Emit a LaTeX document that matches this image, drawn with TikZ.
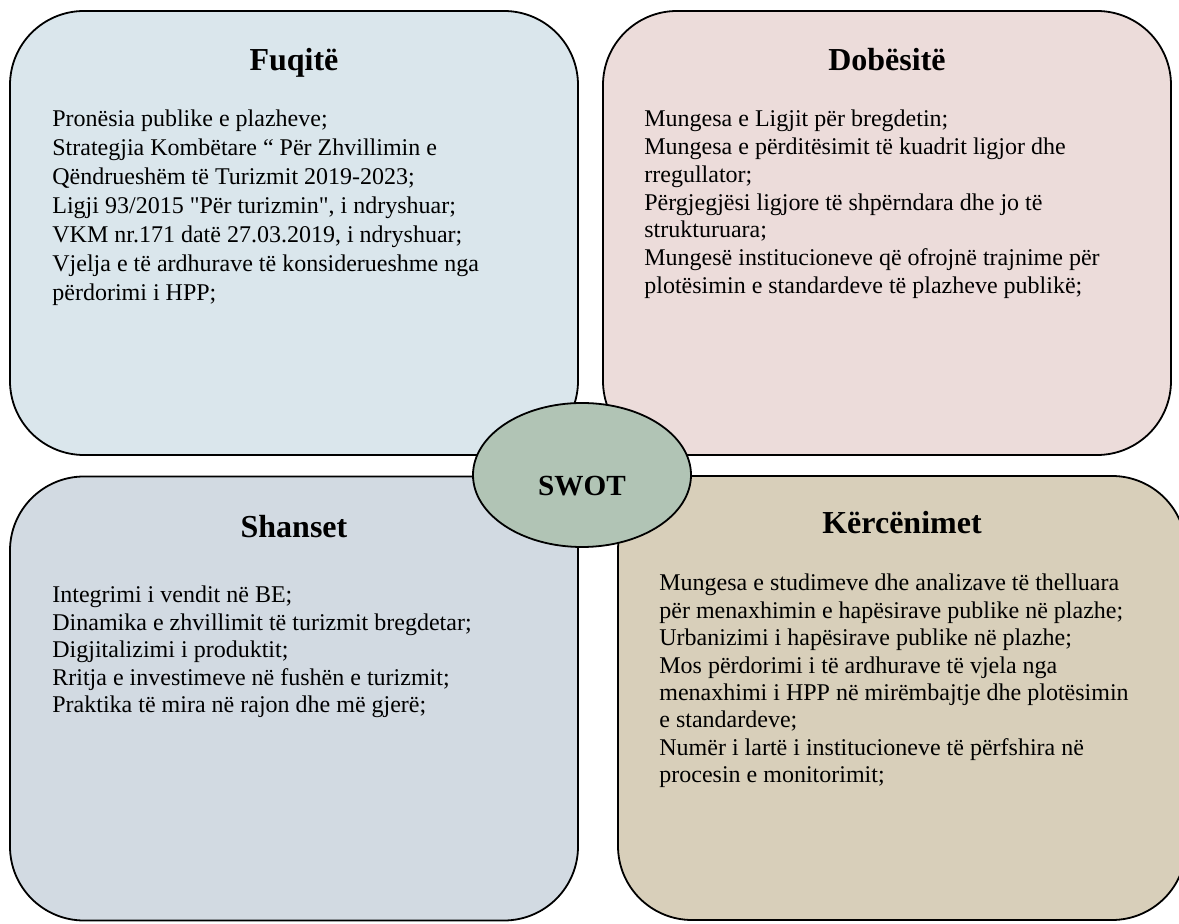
\documentclass[tikz,border=0pt]{standalone}
\usepackage{fontspec}
\setmainfont{Liberation Serif}
\usetikzlibrary{shapes.geometric}
\definecolor{tlfill}{RGB}{218,230,236}
\definecolor{trfill}{RGB}{236,220,218}
\definecolor{blfill}{RGB}{210,218,226}
\definecolor{brfill}{RGB}{216,207,186}
\definecolor{ellfill}{RGB}{177,196,181}
\tikzset{
  quadbox/.style={draw=black, line width=0.9pt, rounded corners=37pt, minimum width=284pt, minimum height=222pt, inner sep=0pt},
  quadtitle/.style={anchor=base, inner sep=0pt, font=\fontsize{16}{19}\selectfont\bfseries},
  bodytext/.style={anchor=base west, inner sep=0pt, align=left},
  swotell/.style={ellipse, draw=black, line width=0.9pt, fill=ellfill, minimum width=109pt, minimum height=72pt, inner sep=0pt}
}
\begin{document}
\begin{tikzpicture}[x=0.5pt, y=-0.5pt]
\useasboundingbox (0,0) rectangle (1179,924);
\fill[white] (0,0) rectangle (1179,924);
% boxes
\node[quadbox, fill=tlfill] (tl) at (294,233) {};
\node[quadbox, fill=trfill] (tr) at (887,233) {};
\node[quadbox, fill=blfill] (bl) at (294,698.5) {};
\node[quadbox, fill=brfill] (br) at (902,698) {};
% titles
\node[quadtitle] (tlt) at (294,71) {Fuqitë};
\node[quadtitle] (trt) at (887,71) {Dobësitë};
\node[quadtitle] (blt) at (294,538) {Shanset};
\node[quadtitle] (brt) at (902,534) {Kërcënimet};
% bodies (base anchor = baseline of the last line)
\node[bodytext, font=\fontsize{12}{14.5}\selectfont] (tlb) at (52,301) {Pronësia publike e plazheve;\\
Strategjia Kombëtare “ Për Zhvillimin e\\
Qëndrueshëm të Turizmit 2019-2023;\\
Ligji 93/2015 \textquotedbl Për turizmin\textquotedbl, i ndryshuar;\\
VKM nr.171 datë 27.03.2019, i ndryshuar;\\
Vjelja e të ardhurave të konsiderueshme nga\\
përdorimi i HPP;};
\node[bodytext, font=\fontsize{12}{13.85}\selectfont] (trb) at (644,293.2) {Mungesa e Ligjit për bregdetin;\\
Mungesa e përditësimit të kuadrit ligjor dhe\\
rregullator;\\
Përgjegjësi ligjore të shpërndara dhe jo të\\
strukturuara;\\
Mungesë institucioneve që ofrojnë trajnime për\\
plotësimin e standardeve të plazheve publikë;};
\node[bodytext, font=\fontsize{12}{13.75}\selectfont] (blb) at (52,713) {Integrimi i vendit në BE;\\
Dinamika e zhvillimit të turizmit bregdetar;\\
Digjitalizimi i produktit;\\
Rritja e investimeve në fushën e turizmit;\\
Praktika të mira në rajon dhe më gjerë;};
\node[bodytext, font=\fontsize{12}{13.7}\selectfont] (brb) at (659,782.8) {Mungesa e studimeve dhe analizave të thelluara\\
për menaxhimin e hapësirave publike në plazhe;\\
Urbanizimi i hapësirave publike në plazhe;\\
Mos përdorimi i të ardhurave të vjela nga\\
menaxhimi i HPP në mirëmbajtje dhe plotësimin\\
e standardeve;\\
Numër i lartë i institucioneve të përfshira në\\
procesin e monitorimit;};
% centre
\node[swotell] (swot) at (582,475) {};
\node[anchor=base, inner sep=0pt, font=\fontsize{14.6}{17}\selectfont\bfseries] (swott) at (582,496) {SWOT};
\end{tikzpicture}
\end{document}
